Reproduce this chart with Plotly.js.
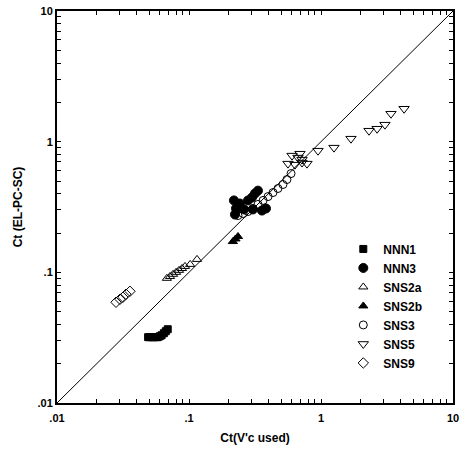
<!DOCTYPE html>
<html>
<head>
<meta charset="utf-8">
<script src="https://cdn.plot.ly/plotly-3.0.1.min.js"></script>
<style>html,body{margin:0;padding:0;background:#fff;}#chart{width:460px;height:451px;}</style>
</head>
<body>
<div id="chart"></div>
<script>
// Data (log-log)
const nnn1_x = [0.049, 0.0506, 0.0524, 0.0542, 0.0561, 0.058, 0.060, 0.062, 0.0645, 0.0667, 0.069];
const nnn1_y = [0.0319, 0.0319, 0.0319, 0.0319, 0.0319, 0.0319, 0.0324, 0.033, 0.0342, 0.0354, 0.0367];

const nnn3_x = [0.219, 0.227, 0.223, 0.243, 0.261, 0.280, 0.300, 0.316, 0.333, 0.305, 0.357, 0.383];
const nnn3_y = [0.355, 0.308, 0.277, 0.336, 0.303, 0.355, 0.374, 0.401, 0.422, 0.303, 0.297, 0.308];

const sns2a_x = [0.068, 0.0718, 0.0757, 0.0798, 0.084, 0.0885, 0.0933, 0.102, 0.115];
const sns2a_y = [0.090, 0.093, 0.0966, 0.100, 0.1036, 0.107, 0.111, 0.115, 0.1256];

const sns2b_x = [0.215, 0.225, 0.235];
const sns2b_y = [0.172, 0.180, 0.188];

const sns3_x = [0.235, 0.257, 0.280, 0.305, 0.333, 0.364, 0.397, 0.433, 0.472, 0.515, 0.552, 0.593];
const sns3_y = [0.272, 0.282, 0.292, 0.308, 0.331, 0.355, 0.380, 0.408, 0.438, 0.470, 0.513, 0.570];

const sns5_x = [0.562, 0.603, 0.635, 0.669, 0.693, 0.718, 0.783, 0.718, 0.949, 1.254, 1.687, 2.31, 2.66, 3.05, 3.39, 4.26];
const sns5_y = [0.679, 0.782, 0.667, 0.755, 0.809, 0.729, 0.679, 0.692, 0.853, 0.900, 1.054, 1.213, 1.256, 1.349, 1.636, 1.786];

const sns9_x = [0.028, 0.030, 0.0316, 0.0333, 0.0357];
const sns9_y = [0.059, 0.0622, 0.0645, 0.068, 0.0716];

const diag_x = [0.01, 10];
const diag_y = [0.01, 10];

const tickVals = [];
[0.01, 0.1, 1].forEach(d => { for (let k = 1; k <= 9; k++) tickVals.push(+(d * k).toPrecision(3)); });
tickVals.push(10);
const majorLabels = {0.01: '.01', 0.1: '.1', 1: '1', 10: '10'};
const tickText = tickVals.map(v => majorLabels[v] !== undefined ? majorLabels[v] : '');

const mk = (sym, size) => ({symbol: sym, size: size, color: '#000', line: {color: '#000', width: 1}});

const traces = [
  {x: diag_x, y: diag_y, mode: 'lines', line: {color: '#000', width: 1}, showlegend: false, hoverinfo: 'skip'},
  {name: 'NNN1', x: nnn1_x, y: nnn1_y, mode: 'markers', marker: mk('square', 7)},
  {name: 'NNN3', x: nnn3_x, y: nnn3_y, mode: 'markers', marker: mk('circle', 9)},
  {name: 'SNS2a', x: sns2a_x, y: sns2a_y, mode: 'markers', marker: mk('triangle-up-open', 8)},
  {name: 'SNS2b', x: sns2b_x, y: sns2b_y, mode: 'markers', marker: mk('triangle-up', 8)},
  {name: 'SNS3', x: sns3_x, y: sns3_y, mode: 'markers', marker: mk('circle-open', 8)},
  {name: 'SNS5', x: sns5_x, y: sns5_y, mode: 'markers', marker: mk('triangle-down-open', 9)},
  {name: 'SNS9', x: sns9_x, y: sns9_y, mode: 'markers', marker: mk('diamond-open', 8)}
];

const FONT = 'Arial, "Liberation Sans", sans-serif';
const axisCommon = {
  type: 'log', range: [-2, 1], tickmode: 'array', tickvals: tickVals, ticktext: tickText,
  ticks: 'inside', ticklen: 4, tickwidth: 1, tickcolor: '#000', mirror: 'ticks',
  showline: true, linecolor: '#000', linewidth: 2, showgrid: false, zeroline: false,
  tickfont: {family: FONT, size: 11, color: '#000', weight: 'bold'}
};

const layout = {
  width: 460, height: 451,
  margin: {l: 57, r: 7, t: 11, b: 48},
  paper_bgcolor: '#fff', plot_bgcolor: '#fff',
  font: {family: FONT, size: 11, color: '#000'},
  xaxis: Object.assign({}, axisCommon, {ticklabelstandoff: 4,
    title: {text: "Ct(V'c used)", standoff: 10, font: {size: 12, weight: 'bold'}}}),
  yaxis: Object.assign({}, axisCommon, {title: {text: 'Ct (EL-PC-SC)', standoff: 12, font: {size: 12, weight: 'bold'}}}),
  showlegend: true,
  legend: {x: 0.723, y: 0.43, xanchor: 'left', yanchor: 'top', bgcolor: 'rgba(0,0,0,0)', borderwidth: 0,
           font: {size: 12, weight: 'bold'}, tracegroupgap: 0, itemwidth: 30}
};

Plotly.newPlot('chart', traces, layout, {displayModeBar: false, staticPlot: true});
</script>
</body>
</html>
